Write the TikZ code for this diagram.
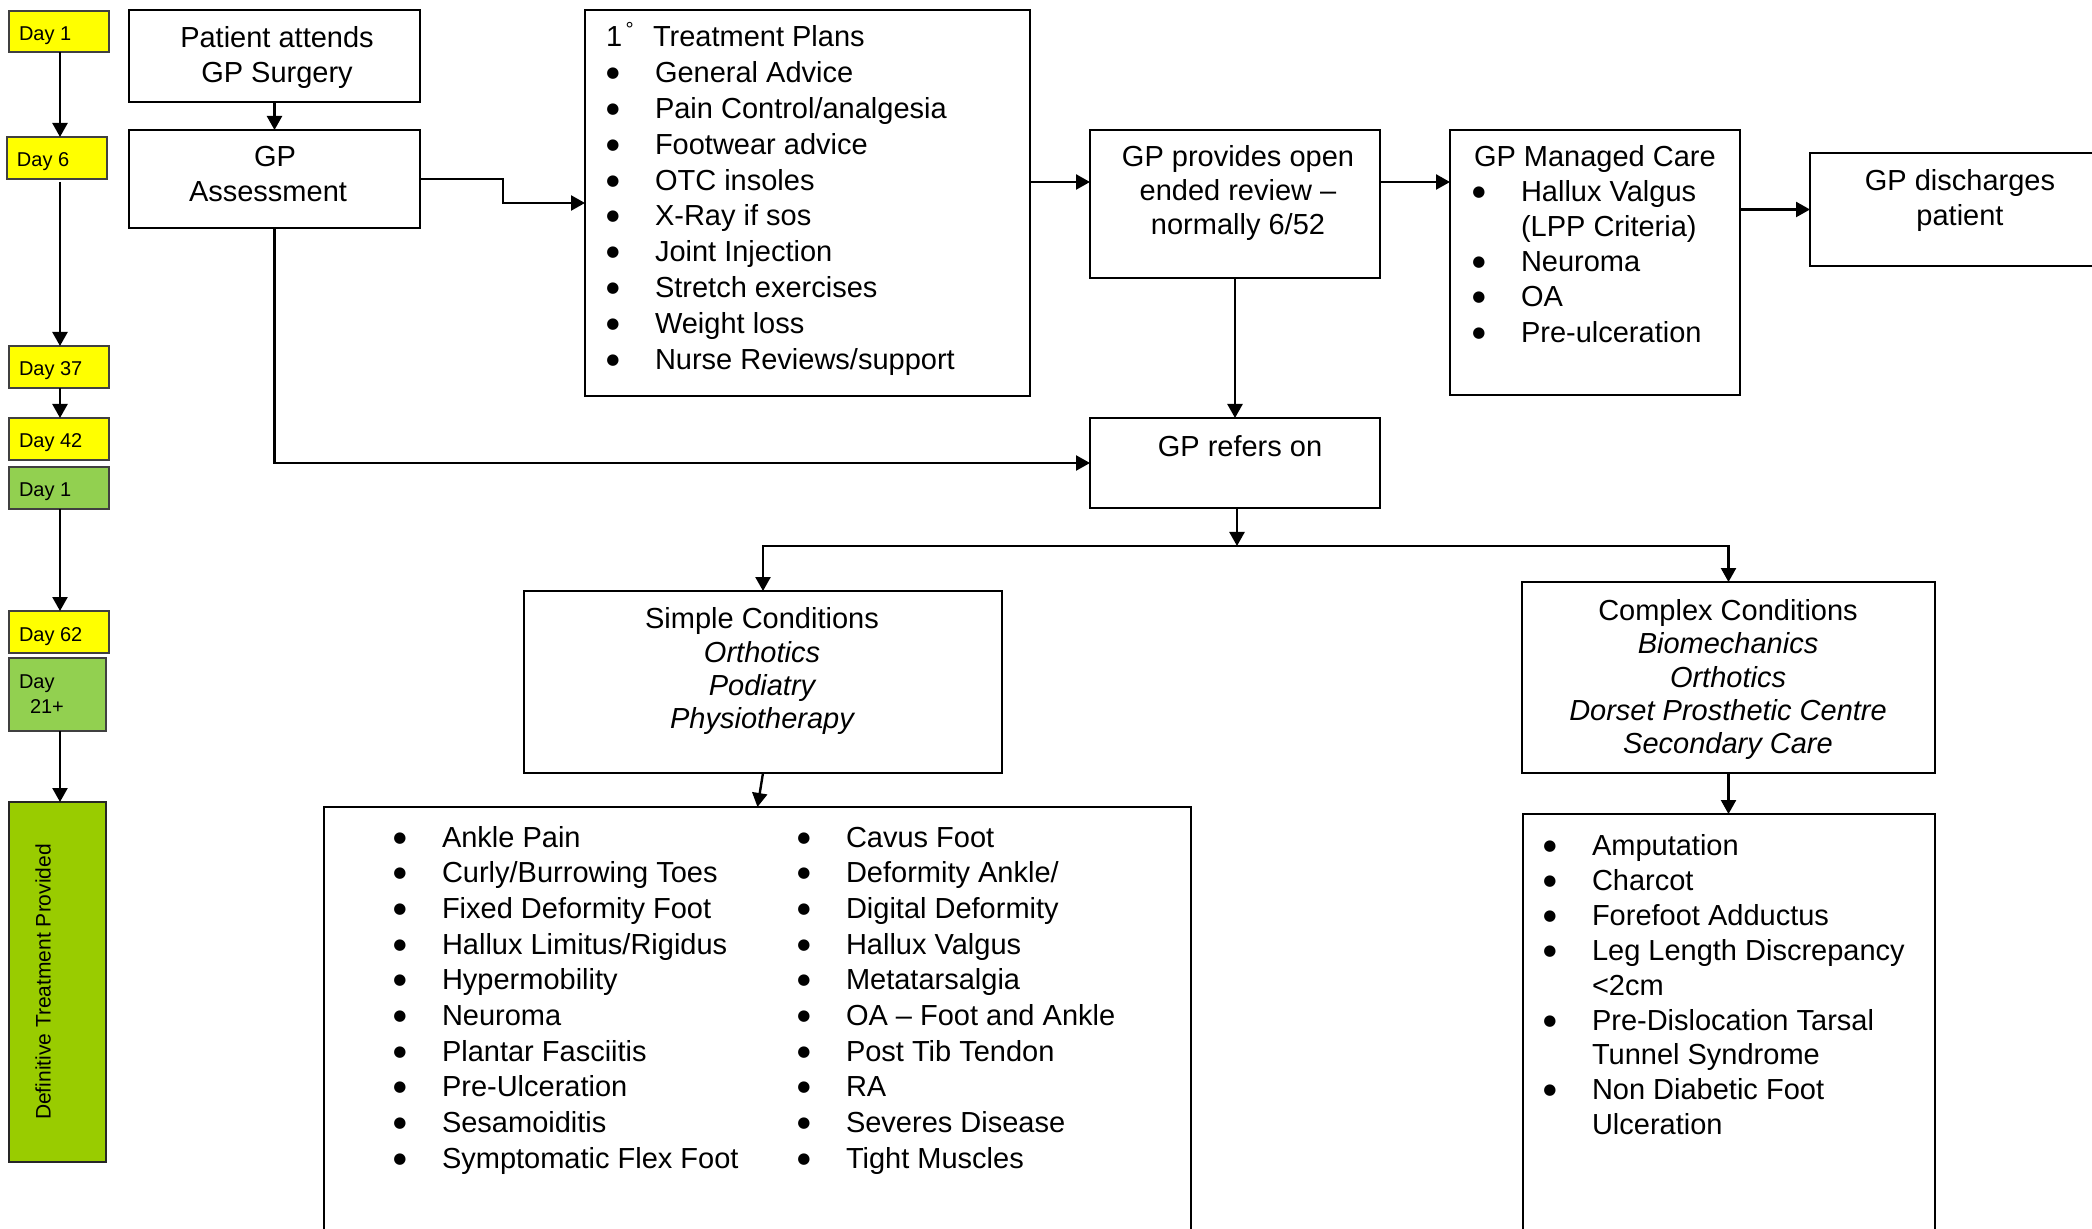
\documentclass[tikz,border=0pt]{standalone}
\usepackage{fontspec}
\setmainfont{Liberation Sans}
\newfontfamily\dejavu{DejaVu Sans}
\usetikzlibrary{fit,arrows.meta,calc}
\newlength\px \setlength\px{0.5pt}
\newcommand\blt{\llap{\makebox[0pt][c]{\raisebox{2.5pt}{\dejavu\fontsize{7.5}{8}\selectfont ●}}\hspace{42\px}}}
\definecolor{dayyellow}{HTML}{FFFF00}
\definecolor{daygreen}{HTML}{92D050}
\definecolor{defgreen}{HTML}{99CC00}
\tikzset{
  box/.style={draw=black, line width=1pt, inner sep=0pt, outer sep=0pt},
  ybox/.style={box, draw=black!75, fill=dayyellow},
  gbox/.style={box, draw=black!75, fill=daygreen},
  dbox/.style={box, draw=black!85, fill=defgreen},
  txt/.style={inner sep=0pt, outer sep=0pt, font=\fontsize{14.5}{17}\selectfont},
  itx/.style={txt, font=\fontsize{14.5}{17}\selectfont\itshape},
  dtxt/.style={inner sep=0pt, outer sep=0pt, font=\fontsize{10}{12}\selectfont},
  arr/.style={line width=1.2pt, -{Triangle[length=7pt,width=7.5pt]}},
  ln/.style={line width=1.2pt}
}
\begin{document}
\begin{tikzpicture}[x=0.5pt, y=-0.5pt]
\useasboundingbox (0,0) rectangle (2092,1229);
\clip (0,0) rectangle (2092,1229);
\fill[white] (0,0) rectangle (2092,1229);

% ---- day column ----
\node[ybox, fit={(9,11)(109,52)}] (day1) {};
\node[ybox, fit={(7,137)(107,179)}] (day6) {};
\node[ybox, fit={(9,346)(109,388)}] (day37) {};
\node[ybox, fit={(9,418)(109,460)}] (day42) {};
\node[gbox, fit={(9,467)(109,509)}] (day1g) {};
\node[ybox, fit={(9,611)(109,653)}] (day62) {};
\node[gbox, fit={(9,658)(106,731)}] (day21) {};
\node[dbox, fit={(9,802)(106,1162)}] (defin) {};

\node[dtxt, anchor=base west] (tday1) at (19,41) {Day 1};
\node[dtxt, anchor=base west] (tday6) at (17,167) {Day 6};
\node[dtxt, anchor=base west] (tday37) at (19,376) {Day 37};
\node[dtxt, anchor=base west] (tday42) at (19,448) {Day 42};
\node[dtxt, anchor=base west] (tday1g) at (19,497) {Day 1};
\node[dtxt, anchor=base west] (tday62) at (19,641) {Day 62};
\node[dtxt, anchor=base west] (tday21a) at (19,688) {Day};
\node[dtxt, anchor=base west] (tday21b) at (30,713) {21+};
\node[dtxt, rotate=90, font=\fontsize{10.5}{12}\selectfont] (tdef) at (43,982) {Definitive Treatment Provided};

\coordinate (c60) at (60,0);
\draw[arr] (day1.south -| c60) -- (day6.north -| c60);
\draw[arr] ([yshift=-1.5pt]day6.south -| c60) -- (day37.north -| c60);
\draw[arr] (day37.south -| c60) -- (day42.north -| c60);
\draw[arr] (day1g.south -| c60) -- (day62.north -| c60);
\draw[arr] (day21.south -| c60) -- (defin.north -| c60);

% ---- main boxes ----
\node[box, fit={(129,10)(420,102)}] (patient) {};
\node[box, fit={(129,130)(420,228)}] (assess) {};
\node[box, fit={(585,10)(1030,396)}] (treat) {};
\node[box, fit={(1090,130)(1380,278)}] (provides) {};
\node[box, fit={(1450,130)(1740,395)}] (managed) {};
\node[box, fit={(1810,153)(2140,266)}] (discharge) {};
\node[box, fit={(1090,418)(1380,508)}] (refers) {};
\node[box, fit={(524,591)(1002,773)}] (simple) {};
\node[box, fit={(1522,582)(1935,773)}] (complex) {};
\node[box, fit={(324,807)(1191,1300)}] (slist) {};
\node[box, fit={(1523,814)(1935,1300)}] (clist) {};

% texts
\node[txt, anchor=base] (tpat1) at (277,48) {Patient attends};
\node[txt, anchor=base] (tpat2) at (277,83) {GP Surgery};
\node[txt, anchor=base] (tass1) at (275,167) {GP};
\node[txt, anchor=base] (tass2) at (268,202) {Assessment};

\node[txt, anchor=base west] (ttr0) at (606,47) {\makebox[47\px][l]{1\textsuperscript{\,°}}Treatment Plans};
\foreach \t [count=\i] in {General Advice, Pain Control/analgesia, Footwear advice, OTC insoles, X-Ray if sos, Joint Injection, Stretch exercises, Weight loss, Nurse Reviews/support}
  \node[txt, anchor=base west] (ttr\i) at (655,{47+35.8*\i}) {\blt\t};

\node[txt, anchor=base] (tpr1) at (1238,167) {GP provides open};
\node[txt, anchor=base] (tpr2) at (1238,201) {ended review –};
\node[txt, anchor=base] (tpr3) at (1238,235) {normally 6/52};

\node[txt, anchor=base west] (tma0) at (1474,167) {GP Managed Care};
\node[txt, anchor=base west] (tma1) at (1521,202) {\blt Hallux Valgus};
\node[txt, anchor=base west] (tma2) at (1521,237) {(LPP Criteria)};
\node[txt, anchor=base west] (tma3) at (1521,272) {\blt Neuroma};
\node[txt, anchor=base west] (tma4) at (1521,307) {\blt OA};
\node[txt, anchor=base west] (tma5) at (1521,343) {\blt Pre-ulceration};

\node[txt, anchor=base] (tdi1) at (1960,191) {GP discharges};
\node[txt, anchor=base] (tdi2) at (1960,226) {patient};

\node[txt, anchor=base] (tre1) at (1240,457) {GP refers on};

\node[txt, anchor=base] (tsi1) at (762,628) {Simple Conditions};
\node[itx, anchor=base] (tsi2) at (762,662) {Orthotics};
\node[itx, anchor=base] (tsi3) at (762,695) {Podiatry};
\node[itx, anchor=base] (tsi4) at (762,728) {Physiotherapy};

\node[txt, anchor=base] (tco1) at (1728,620) {Complex Conditions};
\node[itx, anchor=base] (tco2) at (1728,653) {Biomechanics};
\node[itx, anchor=base] (tco3) at (1728,687) {Orthotics};
\node[itx, anchor=base] (tco4) at (1728,720) {Dorset Prosthetic Centre};
\node[itx, anchor=base] (tco5) at (1728,753) {Secondary Care};

\foreach \t [count=\i] in {Ankle Pain, Curly/Burrowing Toes, Fixed Deformity Foot, Hallux Limitus/Rigidus, Hypermobility, Neuroma, Plantar Fasciitis, Pre-Ulceration, Sesamoiditis, Symptomatic Flex Foot}
  \node[txt, anchor=base west] (tsa\i) at (442,{847+35.7*(\i-1)}) {\blt\t};
\foreach \t [count=\i] in {Cavus Foot, Deformity Ankle/, Digital Deformity, Hallux Valgus, Metatarsalgia, OA – Foot and Ankle, Post Tib Tendon, RA, Severes Disease, Tight Muscles}
  \node[txt, anchor=base west] (tsb\i) at (846,{847+35.7*(\i-1)}) {\blt\t};

\node[txt, anchor=base west] (tcl1) at (1592,855) {\blt Amputation};
\node[txt, anchor=base west] (tcl2) at (1592,890) {\blt Charcot};
\node[txt, anchor=base west] (tcl3) at (1592,925) {\blt Forefoot Adductus};
\node[txt, anchor=base west] (tcl4) at (1592,960) {\blt Leg Length Discrepancy};
\node[txt, anchor=base west] (tcl5) at (1592,995) {<2cm};
\node[txt, anchor=base west] (tcl6) at (1592,1030) {\blt Pre-Dislocation Tarsal};
\node[txt, anchor=base west] (tcl7) at (1592,1064) {Tunnel Syndrome};
\node[txt, anchor=base west] (tcl8) at (1592,1099) {\blt Non Diabetic Foot};
\node[txt, anchor=base west] (tcl9) at (1592,1134) {Ulceration};

% ---- connectors ----
\coordinate (r1) at (0,182);
\coordinate (split) at (1237,546);
\draw[arr] (patient.south) -- (assess.north);
\draw[arr] (assess.east) -- ++(83,0) |- (treat.west);
\draw[arr] (assess.south) |- (refers.west);
\draw[arr] (treat.east |- r1) -- (provides.west |- r1);
\draw[arr] (provides.east |- r1) -- (managed.west |- r1);
\draw[arr] (managed.east |- discharge.west) -- (discharge.west);
\draw[arr] (provides.south) -- (refers.north);
\draw[arr] (refers.south -| split) -- (split);
\draw[arr] (split) -| (simple.north);
\draw[arr] (split) -| (complex.north);
\draw[arr] (simple.south) -- (slist.north);
\draw[arr] (complex.south) -- (complex.south |- clist.north);
\end{tikzpicture}
\end{document}
